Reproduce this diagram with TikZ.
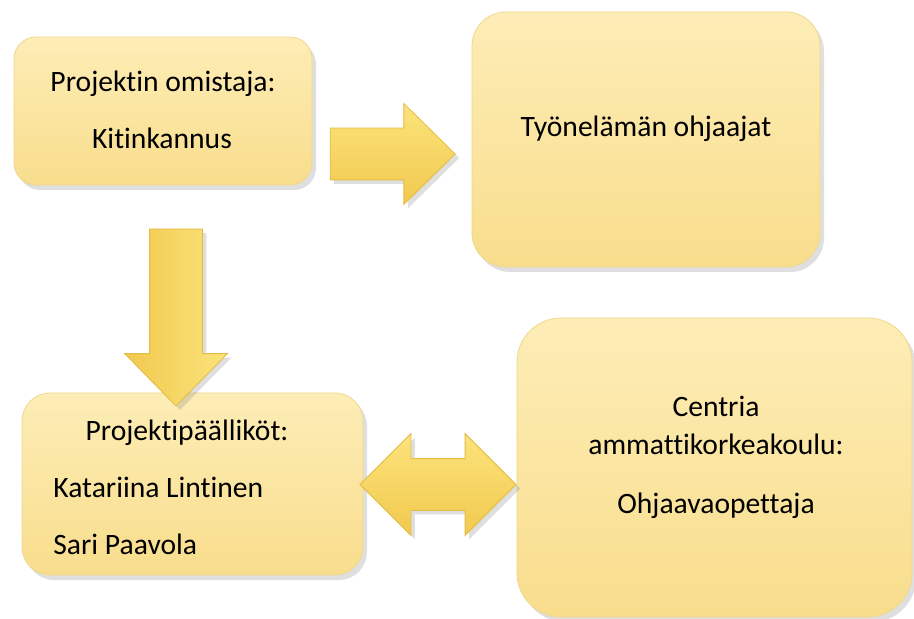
\documentclass[tikz,border=0pt]{standalone}
\usepackage{fontspec}
\setmainfont{Carlito}[Ligatures=NoCommon]
\usetikzlibrary{shapes.arrows,shadows}
\definecolor{boxtop}{HTML}{FDEDB6}
\definecolor{boxbot}{HTML}{F8DD8C}
\definecolor{boxline}{HTML}{EFD78E}
\definecolor{arrlight}{HTML}{FCE37C}
\definecolor{arrdark}{HTML}{F1C94E}
\definecolor{arrline}{HTML}{E3BC45}

\begin{document}
\begin{tikzpicture}[
  x=0.5pt, y=-0.5pt,
  font=\fontsize{14.8}{19}\selectfont,
  box/.style={draw=boxline, top color=boxtop, bottom color=boxbot, inner sep=0pt,
    drop shadow={opacity=0.25, shadow xshift=2pt, shadow yshift=-2.5pt}},
  blk/.style={draw=arrline, inner sep=12.75pt,
    drop shadow={opacity=0.25, shadow xshift=2pt, shadow yshift=-2pt}},
  txt/.style={inner sep=0pt, anchor=base}
]
\useasboundingbox (0,0) rectangle (914,619);
% boxes
\node[box, rounded corners=11pt, minimum width=149pt, minimum height=74pt] (own) at (163,111) {};
\node[box, rounded corners=17pt, minimum width=174pt, minimum height=127.5pt] (tyo) at (646,139.5) {};
\node[box, rounded corners=14pt, minimum width=170.5pt, minimum height=91pt] (pp) at (192.5,484) {};
\node[box, rounded corners=22pt, minimum width=197.5pt, minimum height=149.5pt] (cen) at (714.5,467.5) {};
% texts
\node[txt] (ownt) at (163,92) {Projektin omistaja:};
\node[txt] (ownk) at (162,149) {Kitinkannus};
\node[txt] (tyot) at (646,137) {Työnelämän ohjaajat};
\node[txt] (ppt) at (187,440) {Projektipäälliköt:};
\node[txt, anchor=base west] (ppk) at (53,497) {Katariina Lintinen};
\node[txt, anchor=base west] (pps) at (53,554) {Sari Paavola};
\node[txt] (cenc) at (716,416) {Centria};
\node[txt] (cena) at (716,454) {ammattikorkeakoulu:};
\node[txt] (ceno) at (716,513) {Ohjaavaopettaja};
% block arrows
\node[blk, single arrow, top color=arrlight, bottom color=arrdark,
  minimum height=62.5pt, single arrow head extend=12.25pt,
  single arrow tip angle=89] (a1) at (379.5,154) {};
\node[blk, single arrow, shape border rotate=270, left color=arrdark, right color=arrlight,
  inner sep=13pt, minimum height=88.5pt, single arrow head extend=12.5pt,
  single arrow tip angle=89] (a2) at (176,304) {};
\node[blk, double arrow, top color=arrlight, bottom color=arrdark,
  minimum height=78pt, double arrow head extend=12.5pt,
  double arrow tip angle=90] (a3) at (438,484.5) {};
\end{tikzpicture}
\end{document}
